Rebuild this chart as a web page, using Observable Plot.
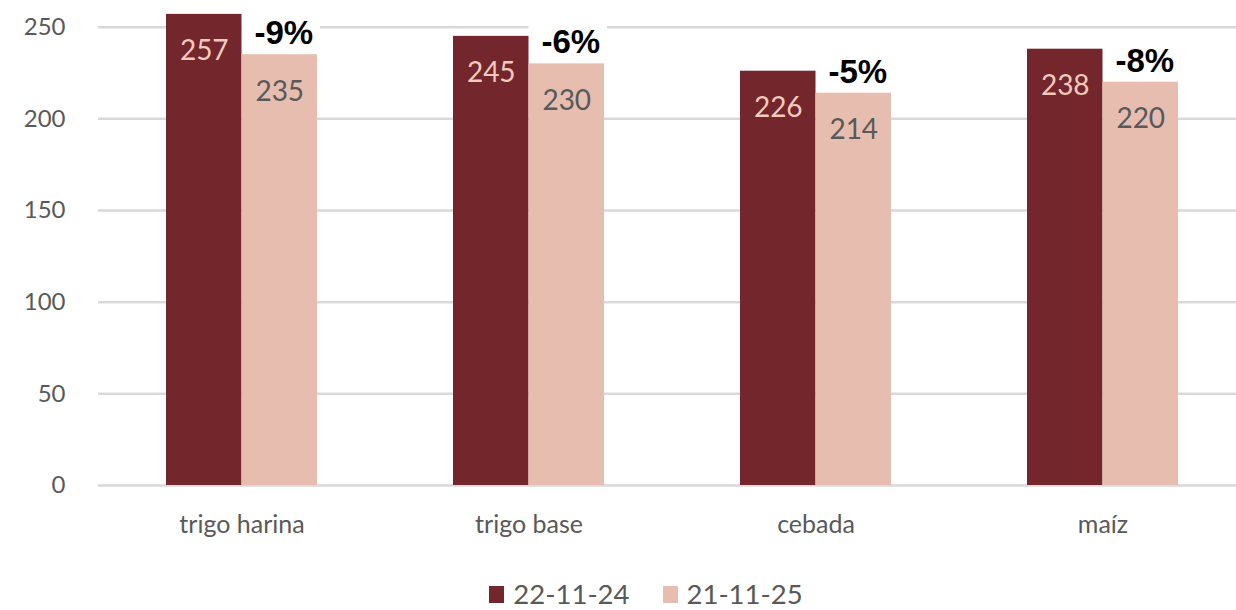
<!DOCTYPE html>
<html>
<head>
<meta charset="utf-8">
<script src="https://cdn.jsdelivr.net/npm/d3@7"></script>
<script src="https://cdn.jsdelivr.net/npm/@observablehq/plot@0.6"></script>
<style>
  html, body { margin: 0; padding: 0; background: #ffffff; overflow: hidden; }
  #chart svg { display: block; }
  #legend { display: flex; justify-content: center; align-items: center; gap: 33px;
    font-family: Lato, "Open Sans", sans-serif; font-size: 27.5px; line-height: 30px; color: #595959;
    height: 30px; margin-top: 13px; padding-left: 56px; }
  #legend .item { display: flex; align-items: center; gap: 9px; }
  #legend .sw { width: 15px; height: 17px; display: inline-block; }
</style>
</head>
<body>
<div id="chart"></div>
<div id="legend"></div>
<script>
const categories = ["trigo harina", "trigo base", "cebada", "maíz"];
const values2024 = [257, 245, 226, 238];
const values2025 = [235, 230, 214, 220];
const changes = ["-9%", "-6%", "-5%", "-8%"];
const seriesNames = ["22-11-24", "21-11-25"];
const seriesColors = ["#73262b", "#e7bdaf"];
const yTicks = [0, 50, 100, 150, 200, 250];

const rows = categories.map((c, i) => ({cat: c, a: values2024[i], b: values2025[i], change: changes[i]}));

const half = 75.5;
const chart = Plot.plot({
  width: 1236,
  height: 566,
  marginLeft: 98,
  marginRight: 0,
  marginTop: 26.7,
  marginBottom: 81,
  style: {fontFamily: "Lato, 'Open Sans', sans-serif", background: "#ffffff"},
  x: {domain: categories, range: [97.5, 1245.5], paddingInner: 0.474, paddingOuter: 0.237, label: null},
  y: {domain: [0, 250], label: null},
  marks: [
    Plot.gridY(yTicks, {stroke: "#d9d9d9", strokeOpacity: 1, strokeWidth: 2.5}),
    Plot.barY(rows, {x: "cat", y1: "b", y2: "b", fill: "#ffffff", insetLeft: half, insetRight: -3, insetTop: -38}),
    Plot.barY(rows, {x: "cat", y: "a", fill: seriesColors[0], insetRight: half}),
    Plot.barY(rows, {x: "cat", y: "b", fill: seriesColors[1], insetLeft: half}),
    Plot.text(rows, {x: "cat", y: "a", text: d => String(d.a), dx: -half / 2, dy: 37, fill: "#f4cabe", fontSize: 28}),
    Plot.text(rows, {x: "cat", y: "b", text: d => String(d.b), dx: half / 2, dy: 37, fill: "#595959", fontSize: 28}),
    Plot.text(rows, {x: "cat", y: "b", text: "change", dx: half / 2 + 4, dy: -21, fill: "#000000",
      fontSize: 33, fontWeight: "bold", fontFamily: "'Liberation Sans', Arial, sans-serif", letterSpacing: "1px"}),
    Plot.axisY(yTicks, {tickSize: 0, tickPadding: 33, fontSize: 24, color: "#595959"}),
    Plot.axisX({tickSize: 0, tickPadding: 30, fontSize: 25, color: "#595959"})
  ]
});
document.getElementById("chart").appendChild(chart);

const legend = document.getElementById("legend");
seriesNames.forEach((name, i) => {
  const item = document.createElement("span");
  item.className = "item";
  const sw = document.createElement("span");
  sw.className = "sw";
  sw.style.background = seriesColors[i];
  const t = document.createElement("span");
  t.textContent = name;
  item.appendChild(sw);
  item.appendChild(t);
  legend.appendChild(item);
});
</script>
</body>
</html>
